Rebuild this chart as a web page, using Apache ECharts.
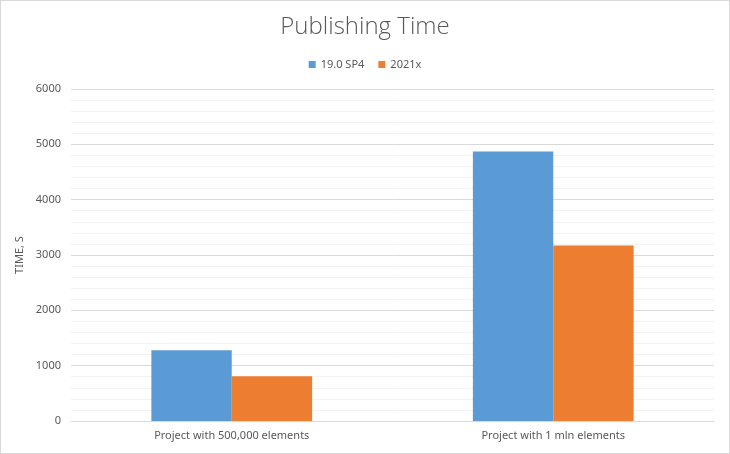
<!DOCTYPE html>
<html>
<head>
<meta charset="utf-8">
<script src="https://cdn.jsdelivr.net/npm/echarts@6/dist/echarts.min.js"></script>
<style>
html, body { margin: 0; padding: 0; background: #fff; }
#main { width: 728px; height: 452px; border: 1px solid #d9d9d9; }
</style>
</head>
<body>
<div id="main"></div>
<script>
// 数据
var categories = ['Project with 500,000 elements', 'Project with 1 mln elements'];
var seriesNames = ['19.0 SP4', '2021x'];
var oldVersion = [1280, 4870];
var newVersion = [810, 3170];
var colors = ['#5b9bd5', '#ed7d31'];

var myChart = echarts.init(document.getElementById('main'));
var option = {
    color: colors,
    textStyle: { fontFamily: 'Noto Sans' },
    title: {
        text: 'Publishing Time',
        left: 'center',
        top: 9,
        textStyle: { fontSize: 24, fontWeight: 300, color: '#595959', fontFamily: 'Open Sans' }
    },
    legend: {
        top: 53,
        left: 'center',
        itemWidth: 7,
        itemHeight: 7,
        itemGap: 14,
        icon: 'rect',
        data: seriesNames,
        textStyle: { color: '#595959', fontSize: 11 }
    },
    grid: {
        left: 70,
        right: 15,
        top: 88,
        bottom: 32,
        containLabel: false
    },
    xAxis: {
        type: 'category',
        data: categories,
        axisTick: { show: false },
        axisLine: { lineStyle: { color: '#d9d9d9' } },
        axisLabel: { color: '#595959', fontSize: 11, margin: 9 }
    },
    yAxis: {
        type: 'value',
        name: 'TIME, S',
        nameLocation: 'middle',
        nameGap: 26,
        nameTextStyle: { color: '#595959', fontSize: 11 },
        min: 0,
        max: 6000,
        interval: 1000,
        axisLine: { show: false },
        axisTick: { show: false },
        axisLabel: {
            color: '#595959', fontSize: 11, margin: 10,
            formatter: function (v) { return String(v); }
        },
        splitLine: { lineStyle: { color: '#d9d9d9' } },
        minorTick: { show: false, splitNumber: 5 },
        minorSplitLine: { show: true, lineStyle: { color: '#f2f2f2' } }
    },
    series: [{
        name: seriesNames[0],
        type: 'bar',
        data: oldVersion,
        barGap: '0%',
        barCategoryGap: '50%'
    }, {
        name: seriesNames[1],
        type: 'bar',
        data: newVersion,
        barGap: '0%',
        barCategoryGap: '50%'
    }]
};
myChart.setOption(option);
</script>
</body>
</html>
